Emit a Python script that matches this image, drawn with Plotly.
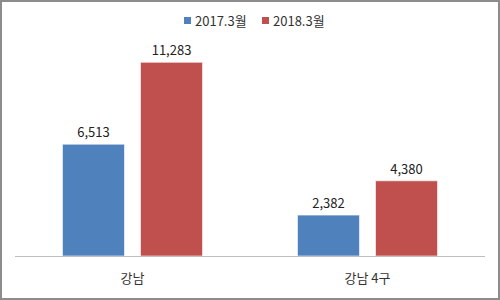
import plotly.graph_objects as go

categories = ["강남", "강남 4구"]
series_names = ["2017.3월", "2018.3월"]
values_2017 = [6513, 2382]
values_2018 = [11283, 4380]
colors = ["#4F81BD", "#C0504D"]

W, H = 500, 300
ml, mr, mt, mb = 15, 15, 50, 44
pw, ph = W - ml - mr, H - mt - mb

fig = go.Figure()
for name, vals, col in zip(series_names, [values_2017, values_2018], colors):
    fig.add_trace(go.Bar(
        x=categories, y=vals, name=name, showlegend=False,
        marker=dict(color=col, line=dict(color="rgba(255,255,255,0.6)", width=1)),
        texttemplate="%{y:,}", textposition="outside",
        textfont=dict(size=13, color="#222"),
        cliponaxis=False,
    ))

# manual legend (small squares close to text, like the reference)
def px_x(x):
    return (x - ml) / pw

def px_y(y):
    return 1 - (y - mt) / ph

shapes = [dict(type="rect", xref="paper", yref="paper",
               x0=(-ml + 1) / pw, x1=1 + (mr - 1) / pw,
               y0=(-mb + 1) / ph, y1=1 + (mt - 1) / ph,
               line=dict(color="#8C8C8C", width=2))]
annotations = []
leg_x = [184, 262]
for lx, name, col in zip(leg_x, series_names, colors):
    shapes.append(dict(type="rect", xref="paper", yref="paper",
                       x0=px_x(lx), x1=px_x(lx + 7), y0=px_y(24), y1=px_y(17),
                       fillcolor=col, line=dict(width=0)))
    annotations.append(dict(text=name, xref="paper", yref="paper",
                            x=px_x(lx + 9), y=px_y(20.5), xanchor="left", yanchor="middle",
                            showarrow=False, font=dict(size=13, color="#333")))

fig.update_layout(
    width=W, height=H,
    margin=dict(l=ml, r=mr, t=mt, b=mb, autoexpand=False),
    barmode="group", bargap=0.336, bargroupgap=0.205,
    paper_bgcolor="white", plot_bgcolor="white",
    font=dict(family="Noto Sans CJK KR, Noto Sans, sans-serif", size=12, color="#333"),
    showlegend=False,
    xaxis=dict(showline=True, linecolor="#BFBFBF", linewidth=1, ticks="",
               tickfont=dict(size=13, color="#333"), showgrid=False,
               ticklabelstandoff=10),
    yaxis=dict(range=[0, 12000], visible=False, showgrid=False),
    shapes=shapes,
    annotations=annotations,
)

fig.write_html("out.html")
